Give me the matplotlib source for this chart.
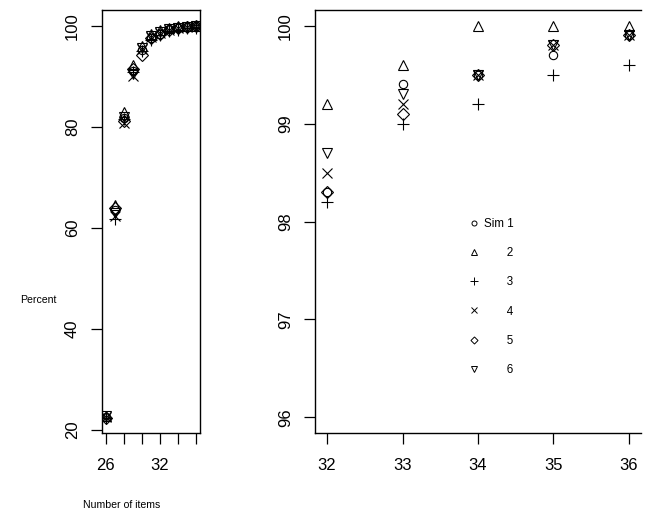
import numpy as np
import matplotlib
matplotlib.use("Agg")
import matplotlib.pyplot as plt
from matplotlib.lines import Line2D

plt.rcParams['font.family'] = ['Liberation Sans', 'DejaVu Sans']

# number of items
items = [26, 27, 28, 29, 30, 31, 32, 33, 34, 35, 36]

# percent for each simulation
sim1 = [22.5, 63.5, 81.8, 91.0, 95.2, 97.6, 98.3, 99.4, 99.5, 99.7, 99.9]
sim2 = [22.8, 64.5, 83.0, 92.2, 96.0, 98.4, 99.2, 99.6, 100.0, 100.0, 100.0]
sim3 = [22.3, 61.8, 81.5, 90.8, 95.0, 97.2, 98.2, 99.0, 99.2, 99.5, 99.6]
sim4 = [22.6, 62.3, 80.8, 90.0, 95.4, 97.8, 98.5, 99.2, 99.5, 99.8, 99.9]
sim5 = [22.4, 64.0, 81.2, 91.5, 94.2, 97.5, 98.3, 99.1, 99.5, 99.8, 99.9]
sim6 = [22.7, 63.0, 82.0, 90.5, 95.6, 98.0, 98.7, 99.3, 99.5, 99.8, 99.9]

sims = [sim1, sim2, sim3, sim4, sim5, sim6]
legend_labels = ["Sim 1", "       2", "       3", "       4", "       5", "       6"]

left_xticks = [26, 28, 30, 32, 34, 36]
left_xticklabels = ["26", "", "", "32", "", ""]
left_yticks = [20, 40, 60, 80, 100]
right_xticks = [32, 33, 34, 35, 36]
right_yticks = [96, 97, 98, 99, 100]

# R pch 1..6 look-alikes
markers = ['o', '^', '+', 'x', 'D', 'v']
msizes = [6, 7.5, 9, 6.5, 6, 7.5]

fig = plt.figure(figsize=(6.53, 5.25), dpi=100)
ax1 = fig.add_axes([102/653, 92/525, 98/653, 423/525])
ax2 = fig.add_axes([315/653, 92/525, 326/653, 423/525])

items = np.array(items)
for s, m, ms in zip(sims, markers, msizes):
    ax1.plot(items, s, linestyle='none', marker=m, markersize=ms,
             markerfacecolor='none', markeredgecolor='black', markeredgewidth=0.8)
ax1.set_xlim(25.6, 36.4)
ax1.set_ylim(19.4, 103.1)
ax1.set_xticks(left_xticks)
ax1.set_xticklabels(left_xticklabels)
ax1.set_yticks(left_yticks)

# zoomed view, 32 items and up
mask = items >= 32
for s, m, ms in zip(sims, markers, msizes):
    ax2.plot(items[mask], np.array(s)[mask], linestyle='none', marker=m,
             markersize=ms, markerfacecolor='none', markeredgecolor='black',
             markeredgewidth=0.8)
ax2.set_xlim(31.84, 36.16)
ax2.set_ylim(95.84, 100.16)
ax2.set_xticks(right_xticks)
ax2.set_yticks(right_yticks)
ax2.spines['right'].set_visible(False)

for ax in (ax1, ax2):
    for sp in ax.spines.values():
        sp.set_linewidth(1.0)
    ax.tick_params(axis='both', length=8, width=0.9, labelsize=12, color='black')
    ax.tick_params(axis='x', pad=10)
    ax.tick_params(axis='y', pad=8)
    for lbl in ax.get_yticklabels():
        lbl.set_rotation(90)
        lbl.set_va('center')

handles = [Line2D([], [], linestyle='none', marker=m, markersize=ms * 0.6,
                  markerfacecolor='none', markeredgecolor='black', markeredgewidth=0.7)
           for m, ms in zip(markers, msizes)]
ax2.legend(handles, legend_labels, loc='upper left', bbox_to_anchor=(0.46, 0.52),
           frameon=False, fontsize=8.4, handlelength=0.8, handletextpad=0.4,
           labelspacing=1.48, borderaxespad=0)

fig.text(38/653, 1 - 300/525, "Percent", ha='center', va='center', fontsize=7.6)
fig.text(122/653, 1 - 505/525, "Number of items", ha='center', va='center', fontsize=7.6)

fig.savefig("out.png", dpi=100)
